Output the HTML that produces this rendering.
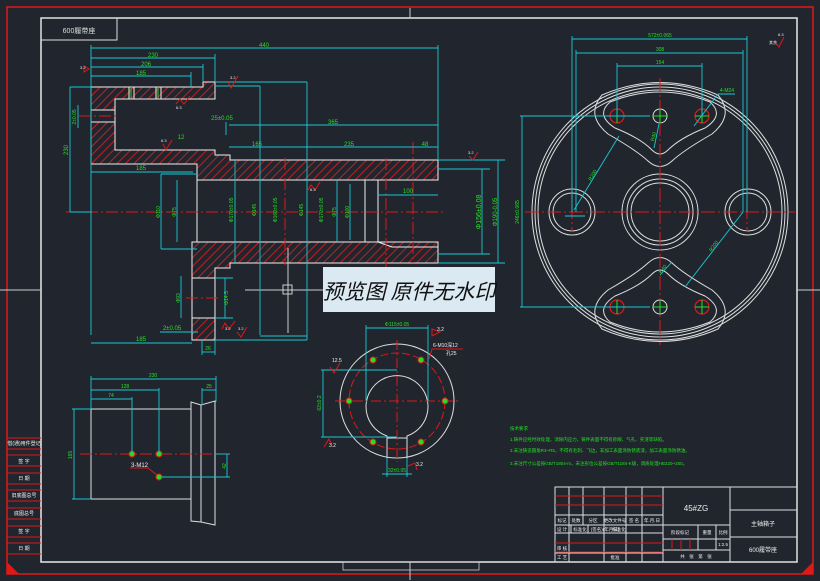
<!DOCTYPE html>
<html><head><meta charset="utf-8"><style>
html,body{margin:0;padding:0;background:#21262e;}
svg{display:block;font-family:"Liberation Sans","Noto Sans CJK SC",sans-serif;}
</style></head><body>
<svg width="820" height="581" viewBox="0 0 820 581" xmlns="http://www.w3.org/2000/svg">
<defs>
<pattern id="h" width="6" height="6" patternUnits="userSpaceOnUse" patternTransform="rotate(45)">
<rect width="6" height="6" fill="#21262e"/><line x1="0" y1="0" x2="0" y2="6" stroke="#e02020" stroke-width="1.6"/>
</pattern>
</defs>
<rect width="820" height="581" fill="#21262e"/>
<!-- frames -->
<rect x="7" y="7" width="806" height="567" fill="none" stroke="#e01818" stroke-width="1.5"/>
<rect x="41" y="18" width="756" height="544" fill="none" stroke="#e8e8e8" stroke-width="1.5"/>
<g stroke="#ccc" stroke-width="1"><line x1="410" y1="8" x2="410" y2="18"/><line x1="410" y1="562" x2="410" y2="580"/><line x1="0" y1="290" x2="41" y2="290"/><line x1="797" y1="290" x2="820" y2="290"/></g>
<polygon points="7,562 7,574 19,574" fill="#e01818"/>
<polygon points="813,562 813,574 801,574" fill="#e01818"/>
<rect x="343" y="562" width="136" height="8" fill="none" stroke="#ccc" stroke-width="0.8"/>
<!-- title small box -->
<rect x="41" y="18" width="76" height="22" fill="none" stroke="#ddd"/>
<text x="79" y="33" fill="#ddd" font-size="7" text-anchor="middle">600履带座</text>
<!-- left strip -->
<g stroke="#e01818" stroke-width="1" fill="none">
<line x1="7" y1="438" x2="41" y2="438"/><line x1="7" y1="449" x2="41" y2="449"/>
<line x1="7" y1="455" x2="41" y2="455"/><line x1="7" y1="466" x2="41" y2="466"/>
<line x1="7" y1="473" x2="41" y2="473"/><line x1="7" y1="484" x2="41" y2="484"/>
<line x1="7" y1="490" x2="41" y2="490"/><line x1="7" y1="501" x2="41" y2="501"/>
<line x1="7" y1="508" x2="41" y2="508"/><line x1="7" y1="519" x2="41" y2="519"/>
<line x1="7" y1="526" x2="41" y2="526"/><line x1="7" y1="537" x2="41" y2="537"/>
<line x1="7" y1="543" x2="41" y2="543"/><line x1="7" y1="554" x2="41" y2="554"/>
</g>
<g fill="#eee" font-size="5" text-anchor="middle">
<text x="24" y="445">借(通)用件登记</text><text x="24" y="463">签 字</text><text x="24" y="480">日 期</text><text x="24" y="497">旧底图总号</text><text x="24" y="515">底图总号</text><text x="24" y="533">签 字</text><text x="24" y="550">日 期</text>
</g>

<!-- ===== Main section view ===== -->
<!-- hatched areas -->
<g fill="url(#h)" stroke="#eee" stroke-width="1">
<path d="M91,87 H203 V82 H215 V99 H115 V150 H215 V155 H230 V160 H438 V180 H197 V164 H91 Z"/>
<path d="M192,242 H438 V263 H230 V268 H215 V278 H192 Z"/>
<rect x="192" y="318" width="23" height="22"/>
</g>
<rect x="91" y="110" width="24" height="12" fill="#21262e" stroke="#eee"/>
<g stroke="#eee" stroke-width="1" fill="none">
<path d="M192,278 V318 M215,278 V340"/>
<path d="M197,180 V242 M365,180 V242 M378,180 V242 M378,242 L392,247 H438"/>
<line x1="129" y1="87" x2="129" y2="99"/><line x1="134" y1="87" x2="134" y2="99"/>
<line x1="156" y1="87" x2="156" y2="99"/><line x1="161" y1="87" x2="161" y2="99"/>
</g>
<g stroke="#2ad02a" stroke-width="1"><line x1="131" y1="88" x2="131" y2="98"/><line x1="158" y1="88" x2="158" y2="98"/></g>
<!-- center lines -->
<g stroke="#e01818" stroke-width="1" stroke-dasharray="12,3,2,3">
<line x1="66" y1="212" x2="446" y2="212"/><line x1="79" y1="116" x2="118" y2="116"/>
<line x1="386" y1="158" x2="386" y2="270"/><line x1="413" y1="142" x2="413" y2="263"/><line x1="285" y1="158" x2="285" y2="265"/>
<line x1="186" y1="298" x2="218" y2="298"/>
</g>
<!-- crosshair -->
<g stroke="#ccc" stroke-width="1" fill="none"><line x1="245" y1="290" x2="323" y2="290"/><line x1="288" y1="248" x2="288" y2="333"/><rect x="283" y="285" width="9" height="9"/></g>
<!-- dimensions cyan -->
<g stroke="#19c8d2" stroke-width="0.9" fill="none">
<line x1="91" y1="48" x2="438" y2="48"/><line x1="91" y1="45" x2="91" y2="335"/><line x1="438" y1="45" x2="438" y2="160"/>
<line x1="91" y1="58" x2="215" y2="58"/><line x1="215" y1="54" x2="215" y2="82"/>
<line x1="91" y1="67" x2="203" y2="67"/><line x1="203" y1="64" x2="203" y2="82"/>
<line x1="91" y1="76" x2="191" y2="76"/><line x1="191" y1="72" x2="191" y2="87"/>
<line x1="215" y1="82" x2="307" y2="82"/><line x1="307" y1="82" x2="307" y2="340"/>
<line x1="215" y1="86" x2="260" y2="86"/><line x1="260" y1="86" x2="260" y2="335"/>
<line x1="229" y1="125" x2="438" y2="125"/><line x1="229" y1="147" x2="438" y2="147"/>
<line x1="226" y1="122" x2="226" y2="135"/>
<line x1="70" y1="87" x2="91" y2="87"/><line x1="70" y1="212" x2="91" y2="212"/><line x1="70" y1="87" x2="70" y2="212"/>
<line x1="78" y1="105" x2="78" y2="128"/>
<line x1="91" y1="172" x2="193" y2="172"/><line x1="91" y1="343" x2="192" y2="343"/>
<line x1="161" y1="174" x2="197" y2="174"/><line x1="161" y1="174" x2="161" y2="249"/><line x1="161" y1="249" x2="197" y2="249"/>
<line x1="177" y1="180" x2="177" y2="242"/><line x1="235" y1="160" x2="235" y2="263"/>
<line x1="337" y1="180" x2="337" y2="242"/><line x1="350" y1="184" x2="350" y2="240"/>
<line x1="378" y1="195" x2="438" y2="195"/>
<line x1="438" y1="169" x2="490" y2="169"/><line x1="438" y1="254" x2="490" y2="254"/><line x1="482" y1="169" x2="482" y2="254"/>
<line x1="438" y1="160" x2="505" y2="160"/><line x1="438" y1="263" x2="505" y2="263"/><line x1="498" y1="160" x2="498" y2="263"/>
<line x1="181" y1="276" x2="181" y2="318"/><line x1="215" y1="278" x2="233" y2="278"/><line x1="215" y1="318" x2="233" y2="318"/><line x1="225" y1="278" x2="225" y2="318"/>
<line x1="160" y1="332" x2="198" y2="332"/>
<line x1="202" y1="340" x2="202" y2="355"/><line x1="215" y1="340" x2="215" y2="355"/><line x1="202" y1="352" x2="215" y2="352"/>
<line x1="215" y1="340" x2="307" y2="340"/><line x1="260" y1="336" x2="307" y2="336"/>
</g>
<g fill="#22e022" font-size="6" text-anchor="middle">
<text x="264" y="47">440</text><text x="153" y="57">230</text><text x="146" y="66">206</text><text x="141" y="75">185</text>
<text x="333" y="124">365</text><text x="257" y="146">165</text><text x="349" y="146">235</text><text x="425" y="146">48</text>
<text x="141" y="170">185</text><text x="141" y="341">185</text><text x="408" y="193">100</text>
<text x="181" y="139">12</text><text x="222" y="120">25±0.05</text><text x="172" y="330">2±0.05</text>
<text x="208" y="350" font-size="5">26</text>
<text transform="translate(68,150) rotate(-90)">230</text>
<text transform="translate(76,117) rotate(-90)" font-size="5">2±0.05</text>
<text transform="translate(160,212) rotate(-90)" font-size="5">Φ110</text>
<text transform="translate(176,212) rotate(-90)" font-size="5">Φ75</text>
<text transform="translate(233,210) rotate(-90)" font-size="5">Φ170±0.05</text>
<text transform="translate(256,210) rotate(-90)" font-size="5">Φ145</text>
<text transform="translate(277,210) rotate(-90)" font-size="5">Φ160±0.05</text>
<text transform="translate(303,210) rotate(-90)" font-size="5">Φ145</text>
<text transform="translate(323,210) rotate(-90)" font-size="5">Φ170±0.05</text>
<text transform="translate(336,212) rotate(-90)" font-size="5">Φ75</text>
<text transform="translate(349,212) rotate(-90)" font-size="5">Φ100</text>
<text transform="translate(481,212) rotate(-90)" font-size="7">Φ156±0.08</text>
<text transform="translate(497,212) rotate(-90)" font-size="6">Φ190-0.05</text>
<text transform="translate(180,298) rotate(-90)" font-size="5">Φ93</text>
<text transform="translate(228,298) rotate(-90)" font-size="5">Φ14.5</text>
</g>
<!-- roughness marks -->
<g stroke="#e01818" stroke-width="1" fill="none">
<path d="M84,66 L89,69 L84,72 Z"/><path d="M228,82 L231,88 L238,76"/><path d="M176,104 L180,99 L184,104 L190,96"/>
<path d="M163,144 L166,150 L172,140"/><path d="M308,190 L311,185 L315,190 L320,182"/>
<path d="M469,156 L473,160 L478,152"/><path d="M222,329 L225,323 L229,329 L235,321"/><path d="M237,332 L241,337 L247,327"/>
<path d="M775,42 L779,47 L784,37"/>
</g>
<g fill="#eee" font-size="4"><text x="80" y="69">3.2</text><text x="230" y="79">3.2</text><text x="176" y="109">6.3</text><text x="161" y="142">6.3</text><text x="310" y="191">6.3</text><text x="468" y="154">3.2</text><text x="225" y="330">3.2</text><text x="238" y="330">3.2</text><text x="778" y="36">6.3</text><text x="769" y="44">其余</text></g>

<!-- ===== Right circle view ===== -->
<g stroke="#ddd" stroke-width="1" fill="none">
<circle cx="660" cy="212" r="128"/><circle cx="660" cy="212" r="125"/><circle cx="660" cy="212" r="122"/>
<circle cx="660" cy="212" r="38"/><circle cx="660" cy="212" r="33"/><circle cx="660" cy="212" r="29"/>
<circle cx="572" cy="212" r="23"/><circle cx="572" cy="212" r="19"/>
<circle cx="748" cy="212" r="23"/><circle cx="748" cy="212" r="19"/>
<path d="M610,102 Q660,82 710,102 Q725,115 705,128 Q680,138 668,150 Q660,158 652,150 Q640,138 615,128 Q595,115 610,102 Z"/>
<path d="M602,95 Q660,70 718,95 Q735,115 712,134 Q684,150 672,161 Q660,172 648,161 Q636,150 608,134 Q585,115 602,95 Z"/>
<path d="M610,322 Q660,342 710,322 Q725,309 705,296 Q680,286 668,274 Q660,266 652,274 Q640,286 615,296 Q595,309 610,322 Z"/>
<path d="M602,329 Q660,354 718,329 Q735,309 712,290 Q684,274 672,263 Q660,252 648,263 Q636,274 608,290 Q585,309 602,329 Z"/>
<circle cx="660" cy="116" r="7"/><circle cx="660" cy="307" r="7"/>
</g>
<g stroke="#e01818" stroke-width="1.2" fill="none">
<circle cx="617" cy="116" r="7"/><circle cx="702" cy="116" r="7"/><circle cx="617" cy="307" r="7"/><circle cx="702" cy="307" r="7"/>
</g>
<g stroke="#e01818" stroke-width="1" stroke-dasharray="14,3,2,3">
<line x1="525" y1="212" x2="795" y2="212"/><line x1="660" y1="78" x2="660" y2="345"/>
<line x1="572" y1="183" x2="572" y2="232"/><line x1="747" y1="183" x2="747" y2="232"/>
</g>
<g stroke="#22e022" stroke-width="1">
<line x1="610" y1="116" x2="624" y2="116"/><line x1="617" y1="109" x2="617" y2="123"/><line x1="653" y1="116" x2="667" y2="116"/><line x1="660" y1="109" x2="660" y2="123"/><line x1="695" y1="116" x2="709" y2="116"/><line x1="702" y1="109" x2="702" y2="123"/>
<line x1="610" y1="307" x2="624" y2="307"/><line x1="617" y1="300" x2="617" y2="314"/><line x1="653" y1="307" x2="667" y2="307"/><line x1="660" y1="300" x2="660" y2="314"/><line x1="695" y1="307" x2="709" y2="307"/><line x1="702" y1="300" x2="702" y2="314"/>
</g>
<g stroke="#19c8d2" stroke-width="0.9" fill="none">
<line x1="572" y1="39" x2="747" y2="39"/><line x1="572" y1="36" x2="572" y2="212"/><line x1="747" y1="36" x2="747" y2="212"/>
<line x1="576" y1="53" x2="743" y2="53"/><line x1="576" y1="50" x2="576" y2="212"/><line x1="743" y1="50" x2="743" y2="212"/>
<line x1="617" y1="66" x2="702" y2="66"/><line x1="617" y1="63" x2="617" y2="116"/><line x1="702" y1="63" x2="702" y2="116"/>
<line x1="520" y1="116" x2="650" y2="116"/><line x1="520" y1="307" x2="650" y2="307"/><line x1="522" y1="116" x2="522" y2="307"/>
<line x1="574" y1="210" x2="619" y2="136"/><line x1="743" y1="212" x2="685" y2="287"/>
<line x1="694" y1="126" x2="718" y2="94"/><line x1="718" y1="94" x2="735" y2="94"/>
<line x1="654" y1="148" x2="659" y2="124"/><line x1="660" y1="275" x2="672" y2="262"/>
<line x1="565" y1="216" x2="585" y2="216"/>
</g>
<g fill="#22e022" font-size="5" text-anchor="middle">
<text x="660" y="37">572±0.065</text><text x="660" y="51">308</text><text x="660" y="64">154</text><text x="727" y="92">4-M24</text>
<text transform="translate(519,212) rotate(-90)">246±0.065</text>
<text transform="translate(594,176) rotate(-60)">R200</text><text transform="translate(715,247) rotate(-55)">R200</text>
<text transform="translate(655,137) rotate(-75)">R40</text><text transform="translate(664,270) rotate(-50)">R40</text>
</g>

<!-- ===== Lower middle view ===== -->
<g stroke="#ddd" stroke-width="1" fill="none">
<circle cx="397" cy="401" r="57"/>
<path d="M387,436 A31,31 0 1 1 407,436 V438 H387 Z"/>
<line x1="387" y1="436" x2="387" y2="458"/><line x1="407" y1="436" x2="407" y2="458"/>
</g>
<circle cx="397" cy="401" r="48" stroke="#e01818" stroke-width="1" fill="none" stroke-dasharray="8,3"/>
<g stroke="#e01818" stroke-width="1" stroke-dasharray="10,3,2,3"><line x1="335" y1="401" x2="460" y2="401"/><line x1="397" y1="340" x2="397" y2="462"/></g>
<g fill="#22e022" stroke="#e01818" stroke-width="1">
<circle cx="349" cy="401" r="3"/><circle cx="445" cy="401" r="3"/><circle cx="373" cy="360" r="3"/><circle cx="421" cy="360" r="3"/><circle cx="373" cy="442" r="3"/><circle cx="421" cy="442" r="3"/>
</g>
<g stroke="#19c8d2" stroke-width="0.9" fill="none">
<line x1="366" y1="328" x2="428" y2="328"/><line x1="366" y1="325" x2="366" y2="401"/><line x1="428" y1="325" x2="428" y2="401"/>
<line x1="321" y1="370" x2="397" y2="370"/><line x1="321" y1="437" x2="397" y2="437"/><line x1="323" y1="370" x2="323" y2="437"/>
<line x1="382" y1="474" x2="412" y2="474"/><line x1="387" y1="458" x2="387" y2="477"/><line x1="407" y1="458" x2="407" y2="477"/>
</g>
<g stroke="#e01818" stroke-width="1" fill="none"><path d="M429,359 L432,349 H463"/><path d="M432,329 L440,332 L432,336 Z"/><path d="M330,367 L334,373 L340,363"/><path d="M324,447 L329,439 L332,445"/><path d="M408,466 L415,463 L417,470"/></g>
<g fill="#22e022" font-size="5" text-anchor="middle"><text x="397" y="326">Φ115±0.05</text><text transform="translate(321,403) rotate(-90)">62±0.2</text><text x="397" y="472">32±0.05</text></g>
<g fill="#eee" font-size="5"><text x="433" y="347">6-M10深12</text><text x="446" y="355">孔25</text><text x="332" y="362">12.5</text><text x="437" y="331">3.2</text><text x="329" y="447">3.2</text><text x="416" y="466">3.2</text></g>

<!-- ===== Lower left view ===== -->
<g stroke="#ddd" stroke-width="1" fill="none">
<rect x="91" y="409" width="100" height="90"/>
<path d="M191,402 L201,405 L215,401 V525 L201,522 L191,521 Z"/><line x1="201" y1="405" x2="201" y2="522"/>
</g>
<g stroke="#e01818" stroke-width="1" stroke-dasharray="12,3,2,3"><line x1="80" y1="454" x2="225" y2="454"/></g>
<g fill="#22e022" stroke="#e01818" stroke-width="1"><circle cx="132" cy="454" r="3"/><circle cx="159" cy="454" r="3"/><circle cx="159" cy="477" r="3"/></g>
<g stroke="#19c8d2" stroke-width="0.9" fill="none">
<line x1="91" y1="379" x2="216" y2="379"/><line x1="91" y1="376" x2="91" y2="409"/><line x1="216" y1="376" x2="216" y2="402"/>
<line x1="91" y1="390" x2="159" y2="390"/><line x1="159" y1="388" x2="159" y2="454"/>
<line x1="91" y1="399" x2="132" y2="399"/><line x1="132" y1="397" x2="132" y2="454"/>
<line x1="202" y1="390" x2="216" y2="390"/><line x1="202" y1="388" x2="202" y2="405"/>
<line x1="72" y1="409" x2="91" y2="409"/><line x1="72" y1="499" x2="91" y2="499"/><line x1="74" y1="409" x2="74" y2="499"/>
<line x1="162" y1="477" x2="230" y2="477"/><line x1="215" y1="454" x2="230" y2="454"/><line x1="227" y1="454" x2="227" y2="477"/>
</g>
<path d="M130,468 H148 L157,475" stroke="#e01818" fill="none"/>
<g fill="#22e022" font-size="5" text-anchor="middle"><text x="153" y="377">230</text><text x="125" y="388">128</text><text x="111" y="397">74</text><text x="209" y="388">25</text>
<text transform="translate(72,455) rotate(-90)">165</text><text transform="translate(226,466) rotate(-90)">42</text></g>
<text x="131" y="467" fill="#eee" font-size="6">3-M12</text>

<!-- ===== Notes ===== -->
<g fill="#22e022" font-size="4.5">
<text x="510" y="430">技术要求</text>
<text x="510" y="441">1.铸件应经时效处理，消除内应力，铸件表面不得有砂眼、气孔、夹渣等缺陷。</text>
<text x="510" y="452">2.未注铸造圆角R3~R5，不得有毛刺、飞边，非加工表面涂防锈底漆，加工表面涂防锈油。</text>
<text x="510" y="465">3.未注尺寸公差按GB/T1804-m，未注形位公差按GB/T1184-K级，调质处理HB220~250。</text>
</g>

<!-- ===== Title block ===== -->
<g stroke="#ddd" stroke-width="1" fill="none">
<rect x="555" y="487" width="242" height="75"/>
<line x1="663" y1="487" x2="663" y2="562"/><line x1="730" y1="487" x2="730" y2="562"/>
<line x1="730" y1="510" x2="797" y2="510"/><line x1="730" y1="537" x2="797" y2="537"/>
<line x1="663" y1="525" x2="730" y2="525"/><line x1="663" y1="550" x2="730" y2="550"/><line x1="663" y1="539" x2="730" y2="539"/>
<line x1="698" y1="525" x2="698" y2="550"/><line x1="716" y1="525" x2="716" y2="550"/>
<line x1="555" y1="515" x2="663" y2="515"/><line x1="555" y1="525" x2="663" y2="525"/><line x1="555" y1="533" x2="663" y2="533"/>
<line x1="555" y1="553" x2="663" y2="553"/>
<line x1="569" y1="487" x2="569" y2="562"/><line x1="583" y1="487" x2="583" y2="525"/><line x1="604" y1="487" x2="604" y2="562"/><line x1="626" y1="487" x2="626" y2="562"/><line x1="642" y1="487" x2="642" y2="562"/>
<line x1="571" y1="525" x2="571" y2="533"/><line x1="588" y1="525" x2="588" y2="533"/>
</g>
<g stroke="#e01818" stroke-width="1"><line x1="555" y1="496" x2="663" y2="496"/><line x1="555" y1="505" x2="663" y2="505"/><line x1="555" y1="543" x2="663" y2="543"/><line x1="555" y1="552" x2="663" y2="552"/>
<line x1="672" y1="539" x2="672" y2="550"/><line x1="681" y1="539" x2="681" y2="550"/><line x1="690" y1="539" x2="690" y2="550"/></g>
<g fill="#eee" font-size="4.5" text-anchor="middle">
<text x="562" y="522">标记</text><text x="576" y="522">处数</text><text x="593" y="522">分区</text><text x="615" y="522">更改文件号</text><text x="634" y="522">签 名</text><text x="652" y="522">年.月.日</text>
<text x="562" y="531">设 计</text><text x="580" y="531">标准化</text><text x="605" y="531">(签名)(年月日)</text><text x="619" y="531">标准化</text>
<text x="562" y="550">审 核</text><text x="562" y="559">工 艺</text><text x="615" y="559">批准</text>
<text x="680" y="534">阶段标记</text><text x="707" y="534">重量</text><text x="723" y="534">比例</text><text x="723" y="546">1:2.5</text>
<text x="696" y="558">共　张　第　张</text>
</g>
<text x="696" y="511" fill="#eee" font-size="8" text-anchor="middle">45#ZG</text>
<text x="763" y="526" fill="#eee" font-size="6" text-anchor="middle">主轴箱子</text>
<text x="763" y="552" fill="#eee" font-size="6" text-anchor="middle">600履带座</text>

<!-- watermark -->
<rect x="323" y="267" width="172" height="45" fill="#dbe9f2"/>
<text x="409" y="299" fill="#111" font-size="21" font-style="italic" text-anchor="middle" font-family="'Noto Sans CJK SC',sans-serif">预览图 原件无水印</text>
</svg>
</body></html>
